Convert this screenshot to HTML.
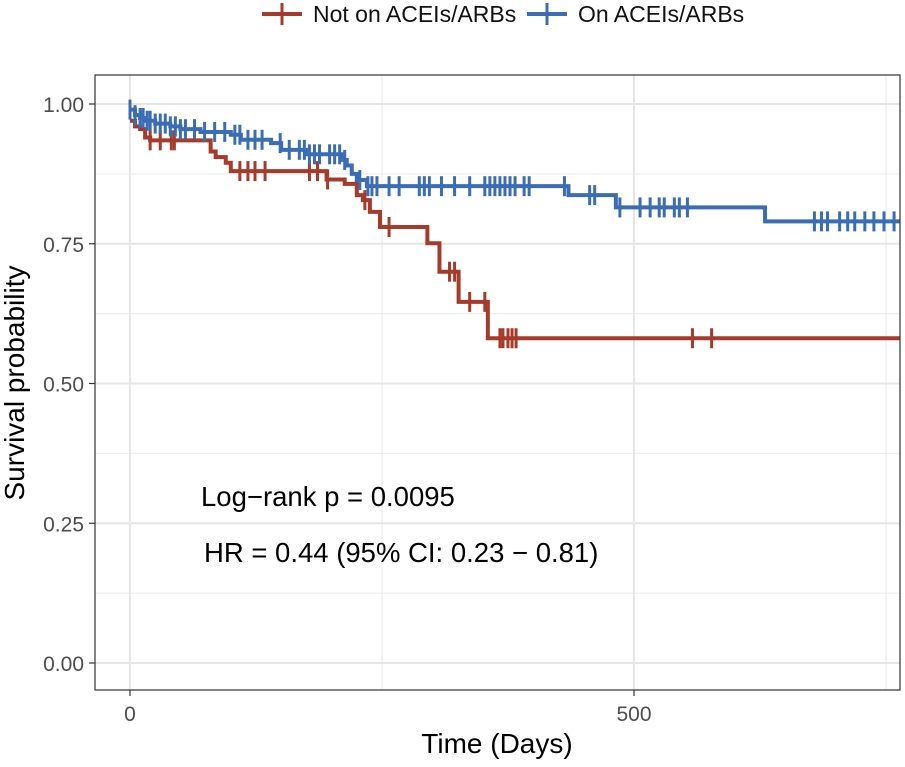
<!DOCTYPE html>
<html><head><meta charset="utf-8"><style>
body{margin:0;background:#fff;font-family:"Liberation Sans",sans-serif}
svg text{font-family:"Liberation Sans",sans-serif}
</style></head><body>
<svg id="c" width="905" height="762">
<g>
<line x1="262" y1="14" x2="302" y2="14" stroke="#a63a2b" stroke-width="4"/><line x1="282" y1="3" x2="282" y2="25" stroke="#a63a2b" stroke-width="3"/>
<text x="313" y="22" font-size="23" fill="#111">Not on ACEIs/ARBs</text>
<line x1="527" y1="14" x2="567" y2="14" stroke="#3b6db4" stroke-width="4"/><line x1="547" y1="3" x2="547" y2="25" stroke="#3b6db4" stroke-width="3"/>
<text x="578" y="22" font-size="23" fill="#111">On ACEIs/ARBs</text>
</g>
<g id="grid"></g><g id="series"></g>
<rect x="95" y="75" width="805" height="615" fill="none" stroke="#333" stroke-width="1.2"/>
<g id="axes"></g>
<text x="201" y="506" font-size="27.5" fill="#000">Log−rank p = 0.0095</text>
<text x="204" y="562" font-size="27.5" fill="#000">HR = 0.44 (95% CI: 0.23 − 0.81)</text>
<text x="497" y="753" font-size="28" text-anchor="middle" fill="#000">Time (Days)</text>
<text transform="translate(24,383) rotate(-90)" font-size="28" text-anchor="middle" fill="#000">Survival probability</text>
</svg>
<script>
const yTicks=[0,0.25,0.5,0.75,1];
const yTickLabels=["0.00","0.25","0.50","0.75","1.00"];
const xTicks=[0,500];
const xMinor=[250,750];
const redTimes=[0,5,10,15,20,80,85,95,100,195,213,225,231,238,248,295,307,326,355];
const redSurv=[0.97,0.96,0.955,0.94,0.935,0.915,0.905,0.895,0.88,0.865,0.857,0.837,0.828,0.807,0.78,0.751,0.70,0.646,0.581];
const redCensor=[20,30,41,44,109,117,124,134,178,186,196,233,257,317,322,337,352,367,370,375,379,383,558,577];
const blueTimes=[0,5,10,15,25,40,50,70,100,110,140,150,175,210,215,220,225,235,435,482,630];
const blueSurv=[0.99,0.98,0.975,0.97,0.965,0.96,0.955,0.95,0.945,0.936,0.93,0.918,0.91,0.90,0.89,0.875,0.864,0.853,0.837,0.815,0.79];
const blueCensor=[0,5,10,13,17,20,25,30,35,40,45,50,55,64,74,84,94,104,109,117,124,131,149,158,168,173,178,183,188,198,203,208,213,228,236,240,245,257,267,287,292,297,309,322,337,352,357,362,367,372,377,382,391,396,431,456,461,486,506,516,525,530,540,545,553,679,686,692,704,712,719,729,738,748,758];
const tMax=764;
const X=d=>130+d*1.008, Y=s=>663-s*559;
const NS="http://www.w3.org/2000/svg";
function mk(tag,attrs,parent){const e=document.createElementNS(NS,tag);for(const k in attrs)e.setAttribute(k,attrs[k]);parent.appendChild(e);return e;}
const grid=document.getElementById('grid'),axes=document.getElementById('axes'),ser=document.getElementById('series');
for(let i=0;i<yTicks.length-1;i++){const v=(yTicks[i]+yTicks[i+1])/2;const l=mk('line',{x1:95,x2:900,y1:Y(v),y2:Y(v),stroke:'#ebebeb','stroke-width':1},grid);}
xMinor.forEach(v=>{const l=mk('line',{x1:X(v),x2:X(v),y1:75,y2:690,stroke:'#ebebeb','stroke-width':1},grid);});
yTicks.forEach((v,i)=>{const l=mk('line',{x1:95,x2:900,y1:Y(v),y2:Y(v),stroke:'#e6e6e6','stroke-width':2},grid);
 const t=mk('line',{x1:89,x2:95,y1:Y(v),y2:Y(v),stroke:'#333','stroke-width':1.2},axes);
 const tx=mk('text',{x:84,y:Y(v)+8,'font-size':21,'text-anchor':'end',fill:'#4d4d4d'},axes);tx.textContent=yTickLabels[i];});
xTicks.forEach(v=>{const l=mk('line',{x1:X(v),x2:X(v),y1:75,y2:690,stroke:'#e6e6e6','stroke-width':2},grid);
 const t=mk('line',{x1:X(v),x2:X(v),y1:690,y2:696,stroke:'#333','stroke-width':1.2},axes);
 const tx=mk('text',{x:X(v),y:721,'font-size':21,'text-anchor':'middle',fill:'#4d4d4d'},axes);tx.textContent=String(v);});
function survAt(times,surv,d){let s=surv[0];for(let i=0;i<times.length;i++)if(times[i]<=d)s=surv[i];return s;}
function draw(times,surv,cens,color,name){
 let p='M'+X(times[0])+','+Y(surv[0]);
 for(let i=1;i<times.length;i++){p+=' H'+X(times[i])+' V'+Y(surv[i]);}
 p+=' H'+X(tMax);
 const path=mk('path',{d:p,fill:'none',stroke:color,'stroke-width':4},ser);
 
 
 cens.forEach(d=>{const y=Y(survAt(times,surv,d));const c=mk('line',{x1:X(d),x2:X(d),y1:y-10,y2:y+10,stroke:color,'stroke-width':3},ser);
  
  });
}
draw(redTimes,redSurv,redCensor,'#a63a2b','not-on-acei');
draw(blueTimes,blueSurv,blueCensor,'#3b6db4','on-acei');
</script>
</body></html>
